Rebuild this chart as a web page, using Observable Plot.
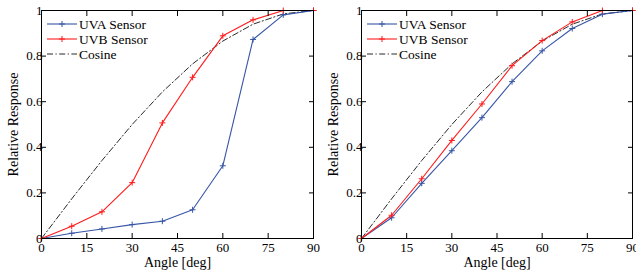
<!DOCTYPE html>
<html>
<head>
<meta charset="utf-8">
<script src="https://cdn.jsdelivr.net/npm/d3@7"></script>
<script src="https://cdn.jsdelivr.net/npm/@observablehq/plot@0.6"></script>
<style>
  html, body { margin: 0; padding: 0; background: #fff; overflow: hidden; }
  #wrap { position: relative; width: 636px; height: 270px; }
  .panel { position: absolute; top: 0; }
  svg { overflow: visible; }
</style>
</head>
<body>
<div id="wrap"></div>
<script>
const angles = [0, 10, 20, 30, 40, 50, 60, 70, 80, 90];
const leftUVA  = [0, 0.023, 0.042, 0.061, 0.076, 0.126, 0.319, 0.873, 0.981, 1];
const leftUVB  = [0, 0.054, 0.117, 0.245, 0.507, 0.707, 0.889, 0.959, 1, 1];
const rightUVA = [0, 0.091, 0.242, 0.385, 0.530, 0.688, 0.823, 0.921, 0.984, 1];
const rightUVB = [0, 0.102, 0.262, 0.430, 0.590, 0.758, 0.868, 0.950, 1, 1];
const cosine   = [0, 0.174, 0.342, 0.5, 0.643, 0.766, 0.866, 0.940, 0.985, 1];
const xTicks = [0, 15, 30, 45, 60, 75, 90];
const yTicks = [0, 0.2, 0.4, 0.6, 0.8, 1];
const yTickLabels = ["0", "0.2", "0.4", "0.6", "0.8", "1"];
const seriesNames = ["UVA Sensor", "UVB Sensor", "Cosine"];
const colors = {"UVA Sensor": "#3755a6", "UVB Sensor": "#ff1a1a", "Cosine": "#111"};
const FONT = "Liberation Serif, Times New Roman, serif";

const thinPlus = {
  draw(ctx, size) {
    const r = Math.sqrt(size / Math.PI);
    ctx.moveTo(-r, 0); ctx.lineTo(r, 0);
    ctx.moveTo(0, -r); ctx.lineTo(0, r);
  }
};

function makePanel(uva, uvb, left, ml, mr) {
  const W = 318, H = 270;
  const rows = [];
  angles.forEach((a, i) => {
    rows.push({s: "UVA Sensor", x: a, y: uva[i]});
    rows.push({s: "UVB Sensor", x: a, y: uvb[i]});
    rows.push({s: "Cosine", x: a, y: cosine[i]});
  });
  const sensors = rows.filter(d => d.s !== "Cosine");
  const cos = rows.filter(d => d.s === "Cosine");
  const chart = Plot.plot({
    width: W, height: H,
    marginLeft: ml, marginRight: mr, marginTop: 10, marginBottom: 32,
    style: {fontFamily: FONT, fontSize: "13px", color: "#000", background: "transparent"},
    x: {domain: [0, 90]},
    y: {domain: [0, 1]},
    marks: [
      Plot.line(cos, {x: "x", y: "y", stroke: colors["Cosine"], strokeWidth: 0.9, strokeDasharray: "6,2.5,1.2,2.5"}),
      Plot.line(sensors, {x: "x", y: "y", z: "s", stroke: d => colors[d.s], strokeWidth: 1.1}),
      Plot.dot(sensors, {x: "x", y: "y", stroke: d => colors[d.s], symbol: thinPlus, r: 3, strokeWidth: 1}),
      Plot.frame({stroke: "#000", strokeWidth: 1}),
      Plot.axisX({anchor: "bottom", ticks: xTicks, tickSize: -5, tickPadding: 9, label: "Angle [deg]", labelArrow: "none", labelAnchor: "center", labelOffset: 28, fontSize: 13}),
      Plot.axisX({anchor: "top", ticks: xTicks, tickSize: -5, tickFormat: () => "", label: null}),
      Plot.axisY({anchor: "left", ticks: yTicks, tickSize: -5, tickPadding: 4, tickFormat: (d, i) => yTickLabels[i], label: "Relative Response", labelArrow: "none", labelAnchor: "center", labelOffset: 33, fontSize: 13}),
      Plot.axisY({anchor: "right", ticks: yTicks, tickSize: -5, tickFormat: () => "", label: null})
    ]
  });
  chart.classList.add("panel");
  chart.style.left = left + "px";
  // enlarge axis labels slightly
  d3.select(chart).selectAll("g[aria-label='x-axis label'] text, g[aria-label='y-axis label'] text").attr("font-size", 14);
  // legend
  const svg = d3.select(chart);
  const g = svg.append("g").attr("transform", `translate(${ml + 6},${24})`);
  seriesNames.forEach((name, i) => {
    const row = g.append("g").attr("transform", `translate(0,${i * 15})`);
    const line = row.append("line").attr("x1", 0).attr("x2", 30).attr("y1", 0).attr("y2", 0)
      .attr("stroke", colors[name]).attr("stroke-width", name === "Cosine" ? 0.9 : 1.1);
    if (name === "Cosine") line.attr("stroke-dasharray", "6,2.5,1.2,2.5");
    else {
      row.append("path").attr("d", "M15,-3V3M12,0H18").attr("stroke", colors[name]).attr("stroke-width", 1);
    }
    row.append("text").attr("x", 32).attr("y", 0).attr("dy", "0.35em")
      .attr("text-anchor", "start")
      .attr("font-family", FONT).attr("font-size", 13.5).attr("fill", "#000").text(name);
  });
  return chart;
}

const wrap = document.getElementById("wrap");
wrap.appendChild(makePanel(leftUVA, leftUVB, 0, 41, 5));
wrap.appendChild(makePanel(rightUVA, rightUVB, 318, 43, 4));
</script>
</body>
</html>
